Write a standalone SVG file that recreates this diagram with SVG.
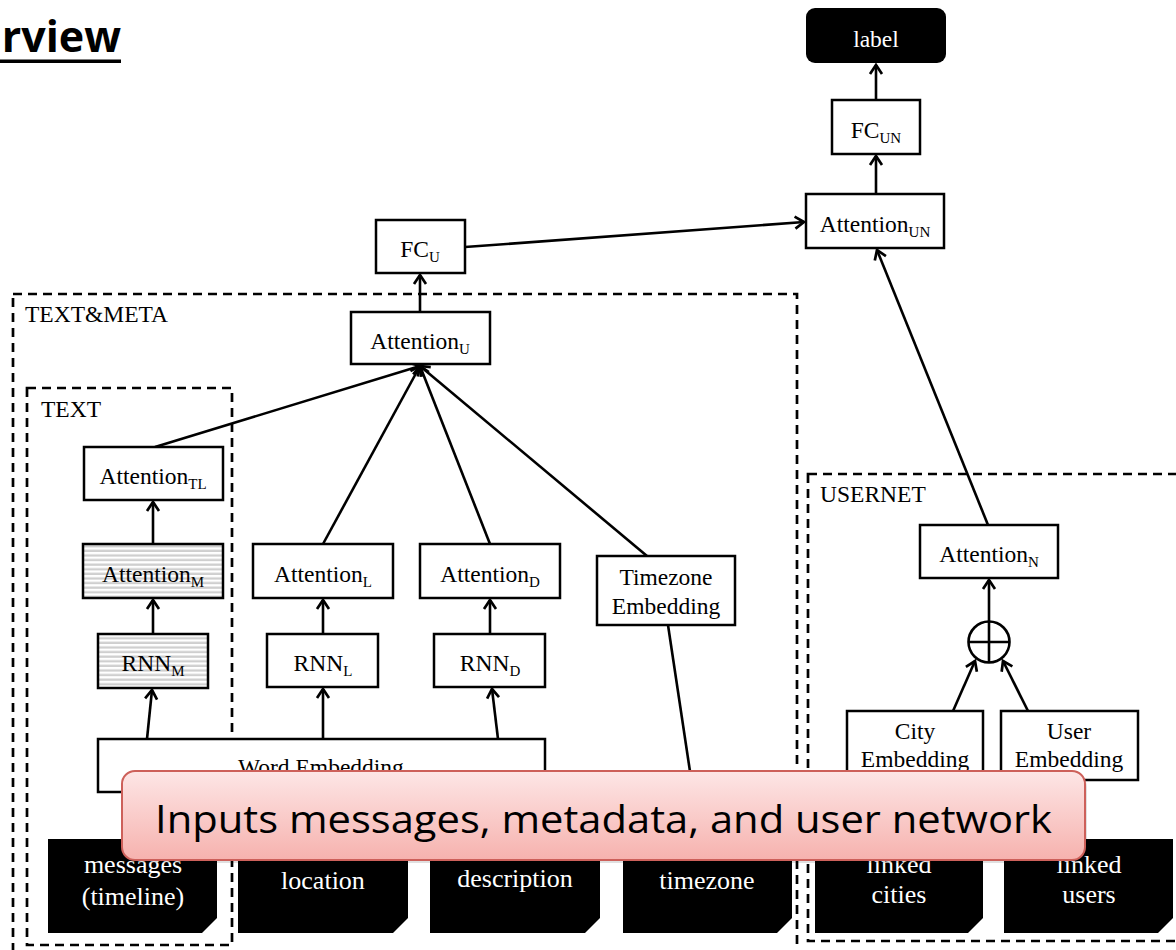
<svg xmlns="http://www.w3.org/2000/svg" width="1176" height="950" viewBox="0 0 1176 950">
  <defs>
    <style>
      .box { fill: #fff; stroke: #000; stroke-width: 2.5; }
      .hatched { fill: url(#stripes); stroke: #000; stroke-width: 2.5; }
      .input { fill: #000; }
      .group { fill: none; stroke: #000; stroke-width: 2.7; stroke-dasharray: 9 6; }
      .lbl { font-family: "Liberation Serif", "Times New Roman", serif; font-size: 23.5px; fill: #000; }
      .ctr { text-anchor: middle; }
      .in { font-family: "Liberation Serif", "Times New Roman", serif; font-size: 26px; fill: #fff; text-anchor: middle; }
      .sub { font-size: 15px; }
      .conn line { stroke: #000; stroke-width: 2.6; }
      .arrow { marker-end: url(#head); }
    </style>
    <marker id="head" viewBox="-12 -9 15 18" markerWidth="15" markerHeight="18" refX="0" refY="0" orient="auto" markerUnits="userSpaceOnUse">
      <path d="M-9,-6 L0,0 L-9,6" fill="none" stroke="#000" stroke-width="2.7"/>
    </marker>
    <pattern id="stripes" width="8" height="4.6" patternUnits="userSpaceOnUse">
      <rect width="8" height="4.6" fill="#fff"/>
      <rect y="2.3" width="8" height="2.3" fill="#cfcfcf"/>
    </pattern>
    <linearGradient id="calloutFill" x1="0" y1="0" x2="0" y2="1">
      <stop offset="0" stop-color="#fde6e6"/>
      <stop offset="1" stop-color="#f6b2ae"/>
    </linearGradient>
  </defs>

  <rect width="1176" height="950" fill="#fff"/>

  <!-- slide title -->
  <text x="121" y="52" text-anchor="end" font-family="'Open Sans', 'Liberation Sans', sans-serif" font-weight="bold" font-size="43" fill="#000">rview</text>
  <rect x="0" y="59.5" width="121" height="3.5" fill="#000"/>

  <!-- dashed grouping frames -->
  <g id="frames">
    <rect id="frame-textmeta" class="group" x="13" y="294" width="784" height="700"/>
    <text class="lbl" x="25" y="322">TEXT&amp;META</text>
    <rect id="frame-text" class="group" x="27" y="388" width="205" height="557"/>
    <text class="lbl" x="41" y="417">TEXT</text>
    <rect id="frame-usernet" class="group" x="808" y="474" width="400" height="467"/>
    <text class="lbl" x="820" y="502">USERNET</text>
  </g>

  <!-- connectors -->
  <g id="connectors" class="conn">
    <line class="arrow" x1="876" y1="100" x2="876" y2="65"/>
    <line class="arrow" x1="876" y1="194" x2="876" y2="156"/>
    <line class="arrow" x1="465" y1="247" x2="804" y2="222"/>
    <line class="arrow" x1="988" y1="525" x2="877" y2="250"/>
    <line class="arrow" x1="420" y1="312" x2="420" y2="275"/>
    <line class="arrow" x1="155" y1="447" x2="420" y2="366"/>
    <line class="arrow" x1="323" y1="544" x2="420" y2="366"/>
    <line class="arrow" x1="490" y1="544" x2="420" y2="366"/>
    <line class="arrow" x1="647" y1="556" x2="420" y2="366"/>
    <line class="arrow" x1="153" y1="544" x2="153" y2="502"/>
    <line class="arrow" x1="153" y1="634" x2="153" y2="600"/>
    <line class="arrow" x1="147" y1="739" x2="152" y2="690"/>
    <line class="arrow" x1="323" y1="634" x2="323" y2="600"/>
    <line class="arrow" x1="323" y1="739" x2="323" y2="689"/>
    <line class="arrow" x1="490" y1="634" x2="490" y2="600"/>
    <line class="arrow" x1="498" y1="739" x2="492" y2="689"/>
    <line x1="700" y1="838" x2="668" y2="625"/>
    <line class="arrow" x1="989" y1="621" x2="989" y2="580"/>
    <line class="arrow" x1="953" y1="711" x2="975" y2="661"/>
    <line class="arrow" x1="1028" y1="711" x2="1003" y2="661"/>
  </g>

  <!-- output side -->
  <g id="node-label">
    <rect x="806" y="8" width="140" height="55" rx="9" fill="#000"/>
    <text class="lbl ctr" x="876" y="47" style="fill:#fff">label</text>
  </g>
  <g id="node-fc-un">
    <rect class="box" x="832" y="100" width="88" height="54"/>
    <text class="lbl ctr" x="876" y="138">FC<tspan class="sub" dy="5">UN</tspan></text>
  </g>
  <g id="node-attention-un">
    <rect class="box" x="806" y="194" width="138" height="54"/>
    <text class="lbl ctr" x="875" y="232">Attention<tspan class="sub" dy="5">UN</tspan></text>
  </g>
  <g id="node-fc-u">
    <rect class="box" x="376" y="220" width="89" height="53"/>
    <text class="lbl ctr" x="420" y="257">FC<tspan class="sub" dy="5">U</tspan></text>
  </g>
  <g id="node-attention-u">
    <rect class="box" x="351" y="312" width="139" height="52"/>
    <text class="lbl ctr" x="420" y="349">Attention<tspan class="sub" dy="5">U</tspan></text>
  </g>

  <!-- text branch -->
  <g id="node-attention-tl">
    <rect class="box" x="84" y="447" width="139" height="53"/>
    <text class="lbl ctr" x="153" y="484">Attention<tspan class="sub" dy="5">TL</tspan></text>
  </g>
  <g id="node-attention-m">
    <rect class="hatched" x="83" y="544" width="140" height="54"/>
    <text class="lbl ctr" x="153" y="582">Attention<tspan class="sub" dy="5">M</tspan></text>
  </g>
  <g id="node-rnn-m">
    <rect class="hatched" x="98" y="634" width="110" height="54"/>
    <text class="lbl ctr" x="153" y="671">RNN<tspan class="sub" dy="5">M</tspan></text>
  </g>
  <g id="node-attention-l">
    <rect class="box" x="253" y="544" width="140" height="54"/>
    <text class="lbl ctr" x="323" y="582">Attention<tspan class="sub" dy="5">L</tspan></text>
  </g>
  <g id="node-rnn-l">
    <rect class="box" x="267" y="634" width="111" height="53"/>
    <text class="lbl ctr" x="323" y="671">RNN<tspan class="sub" dy="5">L</tspan></text>
  </g>
  <g id="node-attention-d">
    <rect class="box" x="420" y="544" width="140" height="54"/>
    <text class="lbl ctr" x="490" y="582">Attention<tspan class="sub" dy="5">D</tspan></text>
  </g>
  <g id="node-rnn-d">
    <rect class="box" x="434" y="634" width="111" height="53"/>
    <text class="lbl ctr" x="490" y="671">RNN<tspan class="sub" dy="5">D</tspan></text>
  </g>
  <g id="node-timezone-embedding">
    <rect class="box" x="597" y="556" width="138" height="69"/>
    <text class="lbl ctr" x="666" y="585">Timezone</text>
    <text class="lbl ctr" x="666" y="614">Embedding</text>
  </g>
  <g id="node-word-embedding">
    <rect class="box" x="98" y="739" width="447" height="53"/>
    <text class="lbl" x="238" y="775">Word Embedding</text>
  </g>

  <!-- user network branch -->
  <g id="node-attention-n">
    <rect class="box" x="920" y="525" width="138" height="53"/>
    <text class="lbl ctr" x="989" y="562">Attention<tspan class="sub" dy="5">N</tspan></text>
  </g>
  <g id="node-sum">
    <circle cx="989" cy="642" r="20.5" fill="#fff" stroke="#000" stroke-width="2.6"/>
    <line x1="969" y1="642" x2="1009" y2="642" stroke="#000" stroke-width="2.6"/>
    <line x1="989" y1="622" x2="989" y2="662" stroke="#000" stroke-width="2.6"/>
  </g>
  <g id="node-city-embedding">
    <rect class="box" x="847" y="711" width="136" height="69"/>
    <text class="lbl ctr" x="915" y="739">City</text>
    <text class="lbl ctr" x="915" y="767">Embedding</text>
  </g>
  <g id="node-user-embedding">
    <rect class="box" x="1001" y="711" width="137" height="69"/>
    <text class="lbl ctr" x="1069" y="739">User</text>
    <text class="lbl ctr" x="1069" y="767">Embedding</text>
  </g>

  <!-- inputs: black cards with a clipped corner -->
  <g id="input-messages">
    <path class="input" d="M48,839 H217 V918 L202,933 H48 Z"/>
    <text class="in" x="133" y="873">messages</text>
    <text class="in" x="133" y="905">(timeline)</text>
  </g>
  <g id="input-location">
    <path class="input" d="M238,839 H408 V918 L393,933 H238 Z"/>
    <text class="in" x="323" y="889">location</text>
  </g>
  <g id="input-description">
    <path class="input" d="M430,839 H600 V918 L585,933 H430 Z"/>
    <text class="in" x="515" y="887">description</text>
  </g>
  <g id="input-timezone">
    <path class="input" d="M623,839 H792 V918 L777,933 H623 Z"/>
    <text class="in" x="707" y="889">timezone</text>
  </g>
  <g id="input-linked-cities">
    <path class="input" d="M815,839 H983 V918 L968,933 H815 Z"/>
    <text class="in" x="899" y="873">linked</text>
    <text class="in" x="899" y="903">cities</text>
  </g>
  <g id="input-linked-users">
    <path class="input" d="M1004,839 H1173 V918 L1158,933 H1004 Z"/>
    <text class="in" x="1089" y="873">linked</text>
    <text class="in" x="1089" y="903">users</text>
  </g>

  <!-- caption callout -->
  <g id="callout">
    <rect x="124" y="774" width="963" height="89" rx="13" fill="#000" opacity="0.12"/>
    <rect x="122" y="771" width="963" height="89" rx="13" fill="url(#calloutFill)" stroke="#cd605a" stroke-width="2"/>
    <text x="155" y="833" font-family="'Open Sans', 'Liberation Sans', sans-serif" font-size="39" fill="#000" textLength="897" lengthAdjust="spacingAndGlyphs">Inputs messages, metadata, and user network</text>
  </g>
</svg>
